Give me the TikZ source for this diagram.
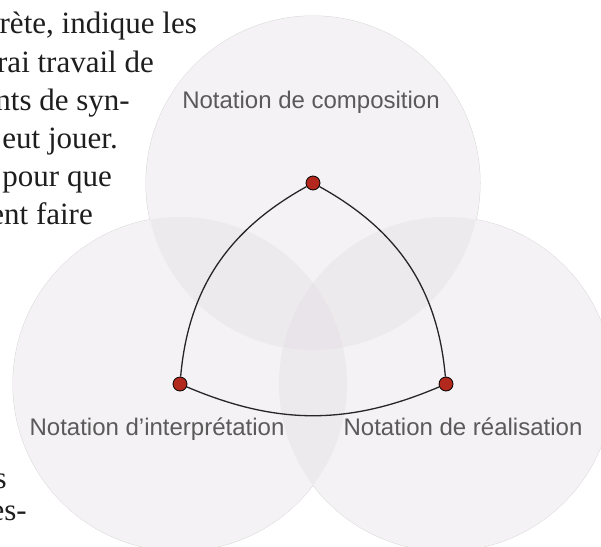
\documentclass[tikz,border=0pt]{standalone}
\usepackage{fontspec}
\setmainfont{Liberation Serif}
\setsansfont{Liberation Sans}
\usepackage{xcolor}
\usetikzlibrary{positioning}

\definecolor{venn}{RGB}{226,220,226}
\definecolor{vennedge}{RGB}{214,214,214}
\definecolor{dotred}{RGB}{178,40,28}
\definecolor{labelgray}{RGB}{90,90,90}
\definecolor{bodytext}{RGB}{30,30,30}

\tikzset{
  dot/.style={circle, fill=dotred, draw=black, line width=0.8pt, inner sep=0pt, minimum size=14pt},
  notation/.style={font=\sffamily\fontsize{24}{24}\selectfont, text=labelgray, inner sep=0pt, anchor=base},
  body/.style={font=\fontsize{31}{31}\selectfont, text=bodytext, inner sep=0pt, anchor=base east},
  link/.style={line width=1.3pt, black!85}
}

\begin{document}
\begin{tikzpicture}[x=1pt,y=-1pt]
  \useasboundingbox (0,0) rectangle (601,546);
  \clip (0,0) rectangle (601,546);

  % Circle centres
  \coordinate (C) at (313,183);
  \coordinate (I) at (180,384);
  \coordinate (R) at (446,384);

  % Circles: outer edge, white base, light fill
  \foreach \c in {C,I,R}
    \draw[vennedge, line width=1pt] (\c) circle[radius=167pt];
  \foreach \c in {C,I,R}
    \fill[white] (\c) circle[radius=167pt];
  \foreach \c in {C,I,R}
    \fill[venn, fill opacity=0.36] (\c) circle[radius=167pt];

  % Surrounding text (cut at the left)
  \node[body] (line1) at (197,33) {rète, indique les};
  \node[body] (line2) at (154,72) {rai travail de};
  \node[body] (line3) at (130,110) {nts de syn-};
  \node[body] (line4) at (118,148) {eut jouer.};
  \node[body] (line5) at (112,186) {pour que};
  \node[body] (line6) at (93,224) {ent faire};
  \node[body] (line7) at (7,488) {s};
  \node[body] (line8) at (27,520) {es-};

  % Labels
  \node[notation] (compo) at (311,108) {Notation de composition};
  \node[notation] (interp) at (157,435) {Notation d’interprétation};
  \node[notation] (real) at (463,435) {Notation de réalisation};

  % Dots
  \node[dot] (top) at (C) {};
  \node[dot] (left) at (I) {};
  \node[dot] (right) at (R) {};

  % Links
  \draw[link] (top) to[out=-151, in=85] (left);
  \draw[link] (top) to[out=-29, in=95] (right);
  \draw[link] (left) to[out=-23, in=-157] (right);
\end{tikzpicture}
\end{document}
